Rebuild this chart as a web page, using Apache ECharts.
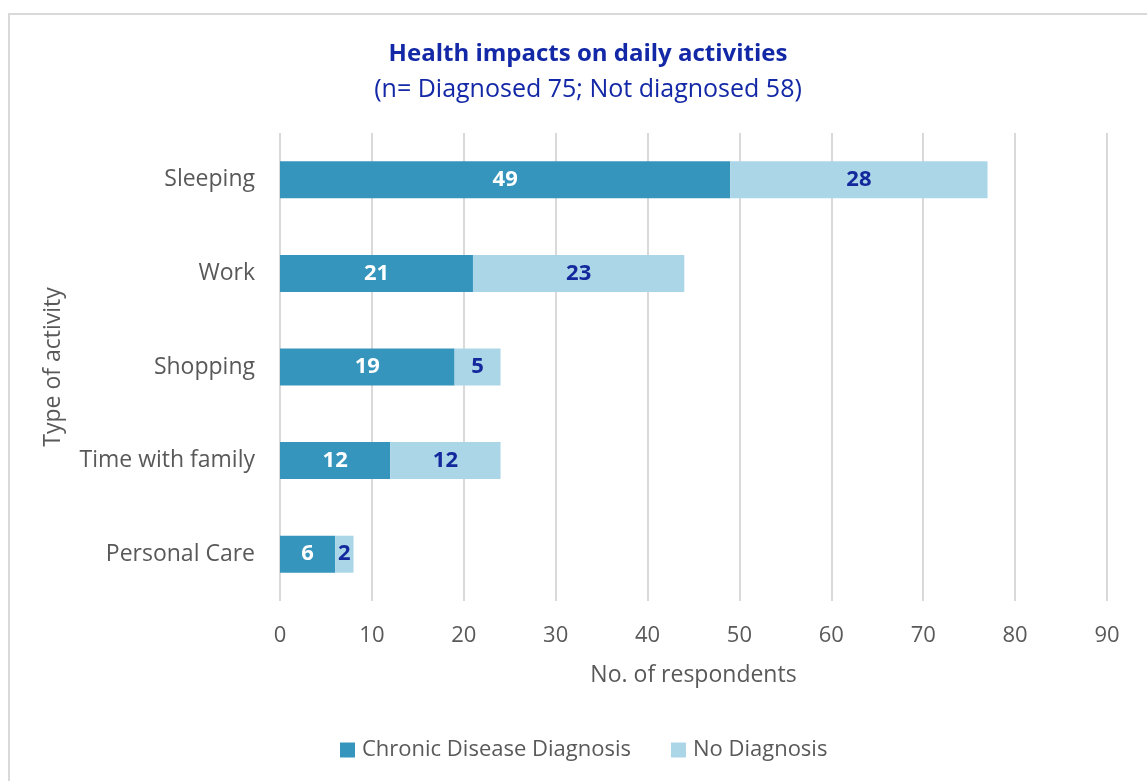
<!DOCTYPE html>
<html>
<head>
<meta charset="utf-8">
<script src="https://cdn.jsdelivr.net/npm/echarts@6/dist/echarts.min.js"></script>
<style>
  html, body { margin: 0; padding: 0; background: #fff; }
  #frame { position: absolute; left: 8px; top: 13px; width: 1160px; height: 800px; border: 2px solid #d9d9d9; box-sizing: border-box; }
  #chart { position: absolute; left: 0; top: 0; width: 1147px; height: 781px; }
</style>
</head>
<body>
<div id="frame"></div>
<div id="chart"></div>
<script>
// Activities, listed bottom to top as the category axis draws them
const activities = ['Personal Care', 'Time with family', 'Shopping', 'Work', 'Sleeping'];
const diagnosed = [6, 12, 19, 21, 49];
const notDiagnosed = [2, 12, 5, 23, 28];
const seriesNames = ['Chronic Disease Diagnosis', 'No Diagnosis'];

const FONT = '"Open Sans", "Noto Sans", sans-serif';
const chart = echarts.init(document.getElementById('chart'), null, { renderer: 'canvas' });

chart.setOption({
  backgroundColor: 'transparent',
  animation: false,
  title: {
    text: 'Health impacts on daily activities',
    subtext: '(n= Diagnosed 75; Not diagnosed 58)',
    left: 583,
    textAlign: 'center',
    top: 37,
    itemGap: 11,
    textStyle: { fontFamily: FONT, fontSize: 24, fontWeight: 'bold', color: '#1328a6' },
    subtextStyle: { fontFamily: FONT, fontSize: 25, color: '#1328a6' }
  },
  grid: { left: 280, right: 40, top: 133, bottom: 180 },
  legend: {
    bottom: 15,
    left: 335,
    itemWidth: 15,
    itemHeight: 15,
    itemGap: 40,
    icon: 'rect',
    textStyle: { fontFamily: FONT, fontSize: 22, color: '#595959', padding: [0, 0, 0, 2] },
    data: seriesNames
  },
  xAxis: {
    type: 'value',
    min: 0,
    max: 90,
    interval: 10,
    name: 'No. of respondents',
    nameLocation: 'middle',
    nameGap: 63,
    nameTextStyle: { fontFamily: FONT, fontSize: 23, color: '#595959' },
    axisLine: { show: false },
    axisTick: { show: false },
    axisLabel: { fontFamily: FONT, fontSize: 22, color: '#595959', margin: 24 },
    splitLine: { show: true, lineStyle: { color: '#d9d9d9', width: 2 } }
  },
  yAxis: {
    type: 'category',
    data: activities,
    name: 'Type of activity',
    nameLocation: 'middle',
    nameGap: 215,
    nameRotate: 90,
    nameTextStyle: { fontFamily: FONT, fontSize: 23, color: '#595959' },
    axisLine: { show: false },
    axisTick: { show: false },
    axisLabel: { fontFamily: FONT, fontSize: 23, color: '#595959', margin: 25 }
  },
  series: [
    {
      name: seriesNames[0],
      type: 'bar',
      stack: 'total',
      barWidth: 37,
      data: diagnosed,
      itemStyle: { color: '#3595bc' },
      label: {
        show: true,
        position: 'inside',
        fontFamily: FONT,
        fontSize: 22,
        fontWeight: 'bold',
        color: '#ffffff'
      }
    },
    {
      name: seriesNames[1],
      type: 'bar',
      stack: 'total',
      barWidth: 37,
      data: notDiagnosed,
      itemStyle: { color: '#abd6e7' },
      label: {
        show: true,
        position: 'inside',
        fontFamily: FONT,
        fontSize: 22,
        fontWeight: 'bold',
        color: '#13289c'
      }
    }
  ]
});
</script>
</body>
</html>
